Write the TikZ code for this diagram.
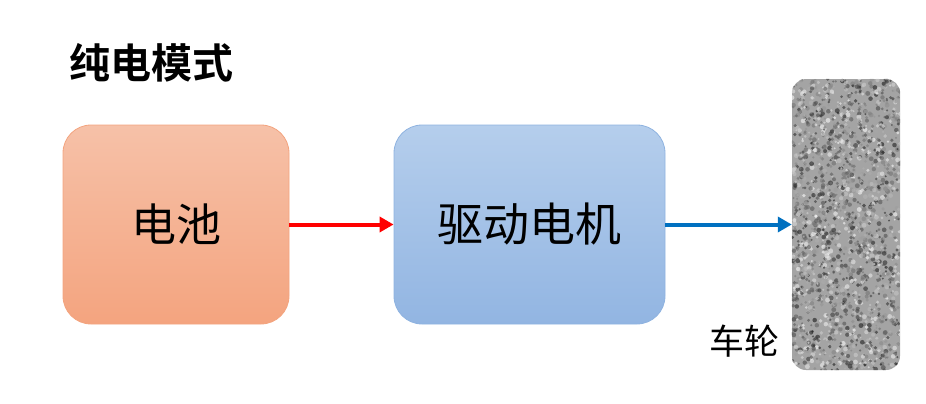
\documentclass[tikz,border=0pt]{standalone}
\usepackage{fontspec}
\newfontfamily\cjk{Noto Sans CJK SC}
\newfontfamily\cjkb{Noto Sans CJK SC Bold}
\usetikzlibrary{arrows.meta}
\definecolor{batTop}{HTML}{F6C1A8}
\definecolor{batBot}{HTML}{F4A47F}
\definecolor{batLine}{HTML}{F3A47F}
\definecolor{motTop}{HTML}{B5CEEC}
\definecolor{motBot}{HTML}{92B5E2}
\definecolor{motLine}{HTML}{8FB3E0}
\definecolor{arrRed}{HTML}{FF0000}
\definecolor{arrBlue}{HTML}{0070C0}
\definecolor{wheelBase}{HTML}{A4A4A4}
\tikzset{
  box/.style={rounded corners=28pt, minimum width=226pt, minimum height=199pt, line width=0.8pt, inner sep=0pt},
  link/.style={line width=4pt, -{Triangle[length=14pt,width=15pt]}},
}
\begin{document}
\begin{tikzpicture}[x=1pt,y=-1pt]
\useasboundingbox (0,0) rectangle (926,404);
\node[font=\cjkb\fontsize{41}{41}\selectfont, anchor=west] (title) at (66,63) {纯电模式};
\node[box, top color=batTop, bottom color=batBot, draw=batLine, font=\cjk\fontsize{45}{45}\selectfont] (battery) at (176,224.5) {电池};
\node[box, minimum width=271pt, top color=motTop, bottom color=motBot, draw=motLine, font=\cjk\fontsize{46}{46}\selectfont] (motor) at (529.5,224.5) {驱动电机};
\node[rounded corners=14pt, minimum width=108pt, minimum height=291pt, inner sep=0pt, fill=wheelBase] (wheel) at (846,224.5) {};
\begin{scope}
  \clip[rounded corners=14pt] (wheel.south west) rectangle (wheel.north east);
  \pgfmathsetseed{11}
  \foreach \i in {1,...,2000}{
    \pgfmathsetmacro\px{792+108*rnd}
    \pgfmathsetmacro\py{79+291*rnd}
    \pgfmathsetmacro\pr{1.0+1.5*rnd}
    \pgfmathsetmacro\pg{int(10+90*rnd)}
    \fill[white!\pg!black, opacity=0.6] (\px,\py) circle[radius=\pr];
  }
\end{scope}
\node[font=\cjk\fontsize{35}{35}\selectfont, anchor=east] (wlabel) at (783,341) {车轮};
\draw[link, draw=arrRed] (battery.east) -- (motor.west);
\draw[link, draw=arrBlue] (motor.east) -- (wheel.west);
\end{tikzpicture}
\end{document}
